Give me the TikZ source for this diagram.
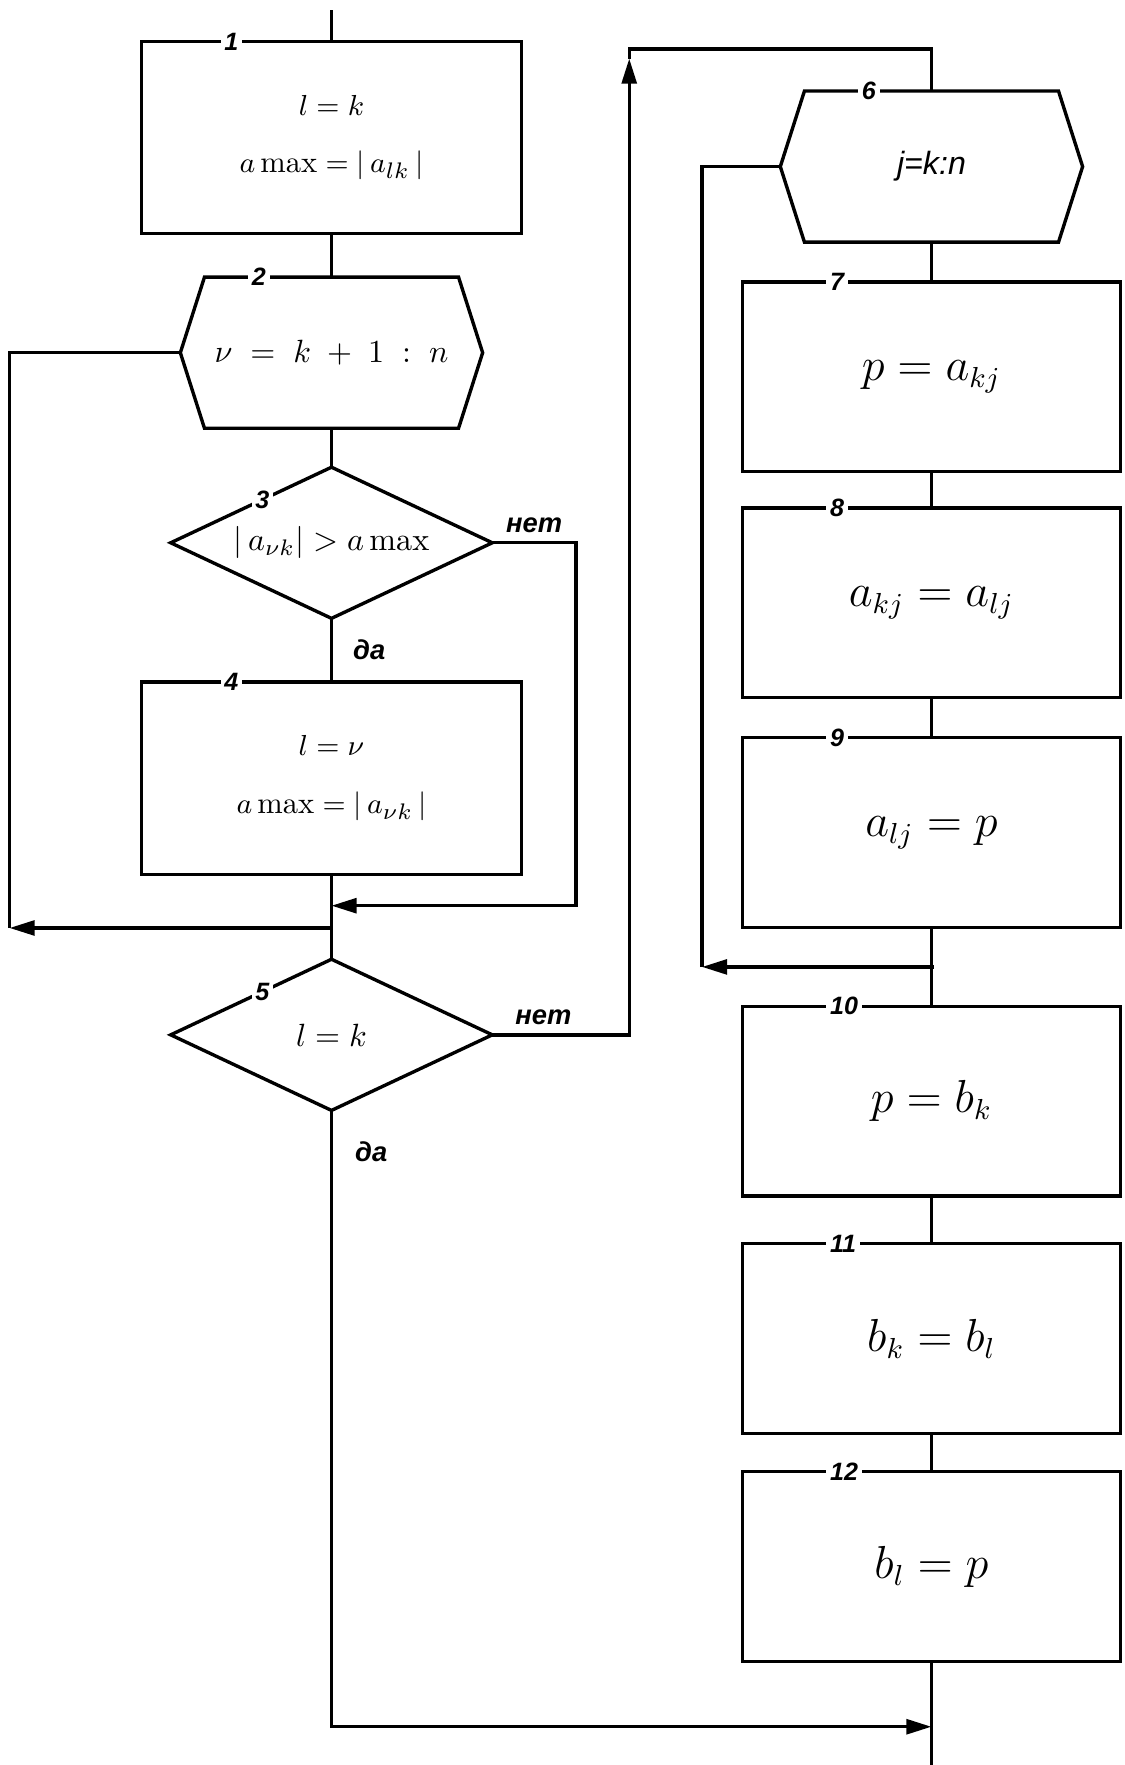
\documentclass[tikz,border=0pt]{standalone}
\usepackage{fontspec}
\setsansfont{Liberation Sans}
\usetikzlibrary{arrows.meta,positioning,shapes.geometric,calc}
\newcommand\hexline[1]{\draw ([xshift=7.5pt]#1.north west) -- ([xshift=-7.5pt]#1.north east) -- (#1.east) -- ([xshift=-7.5pt]#1.south east) -- ([xshift=7.5pt]#1.south west) -- (#1.west) -- cycle;}

\begin{document}
\begin{tikzpicture}[x=0.35pt,y=-0.35pt,line width=1.05pt,every node/.style={align=center},
 box/.style={draw,minimum width=117.5pt,minimum height=59pt,inner sep=0pt,outer sep=0pt,font=\fontsize{13.5}{16}\selectfont},
 lbox/.style={box,minimum width=118pt,minimum height=59.8pt,font=\fontsize{9.5}{12}\selectfont},
 hexbox/.style={minimum width=94pt,minimum height=47pt,inner sep=0pt,outer sep=0pt},
 cond/.style={draw,diamond,aspect=2.13,minimum width=100pt,minimum height=47pt,inner sep=0pt,outer sep=0pt,font=\fontsize{10}{12}\selectfont},
 num/.style={fill=white,inner sep=1.2pt,font=\sffamily\bfseries\itshape\fontsize{7.8}{9}\selectfont},
 ans/.style={inner sep=0pt,font=\sffamily\bfseries\itshape\fontsize{8.5}{10}\selectfont},
 arr/.style={-{Triangle[length=7.8pt,width=4.6pt]}}]
\useasboundingbox (0,0) rectangle (999,1568);
\node[lbox] (b1) at (294.5,122.2) {$l=k$\\[6pt]$a\max=|\,a_{lk}\,|$};
\node[hexbox,below=13.5pt of b1] (h2) {\fontsize{10}{12}\selectfont$\nu\;=\;k\;+\;1\;:\;n$};
\node[cond,below=12.1pt of h2] (d3) {$|\,a_{\nu k}|>a\max$};
\node[lbox,below=19.8pt of d3] (b4) {$l=\nu$\\[6pt]$a\max=|\,a_{\nu k}\,|$};
\node[cond,below=26.4pt of b4] (d5) {$l=k$};
\node[hexbox] (h6) at (827.5,148) {\sffamily\itshape\fontsize{10}{12}\selectfont j=k:n};
\node[box,below=12.4pt of h6] (b7) {$p=a_{kj}$};
\node[box,below=11.2pt of b7] (b8) {$a_{kj}=a_{lj}$};
\node[box,below=12.5pt of b8] (b9) {$a_{lj}=p$};
\node[box,below=24.5pt of b9] (b10) {$p=b_k$};
\node[box,below=14.8pt of b10] (b11) {$b_k=b_l$};
\node[box,below=11.9pt of b11] (b12) {$b_l=p$};
\hexline{h2}\hexline{h6}
\coordinate (in) at (294.5,9);
\coordinate (j3) at (294.5,804.6);
\coordinate (j5) at (294.5,824.4);
\coordinate (lp2) at (8.5,824.4);
\coordinate (up) at (559,52);
\coordinate (top6) at (827.5,43.6);
\coordinate (j9) at (829.5,859);
\coordinate (lp6) at (623.7,859);
\coordinate (j12) at (827.5,1534);
\coordinate (out) at (827.5,1568);
\draw (in)--(b1);\draw (b1)--(h2);\draw (h2)--(d3);\draw (d3)--(b4);\draw (b4)--(d5);
\draw (h2.west) -| (lp2);\draw[arr] (j5)--(lp2);
\draw[arr] (d3.east) -- ++(74.4,0) |- (j3);
\draw[arr] (d5.east) -| (up);\draw (up) |- (top6) -- (h6.north);
\draw[arr] (d5.south) |- (j12);
\draw (h6)--(b7);\draw (b7)--(b8);\draw (b8)--(b9);\draw (b9)--(b10);\draw (b10)--(b11);\draw (b11)--(b12);\draw (b12)--(out);
\draw (h6.west) -| (lp6);\draw[arr] (j9)--(lp6);
\foreach \b/\t in {b1/1,b4/4}
  \node[num,anchor=west] (n\t) at ([xshift=24pt]\b.north west) {\t};
\foreach \b/\t in {b7/7,b8/8,b9/9,b10/10,b11/11,b12/12}
  \node[num,anchor=west] (n\t) at ([xshift=25.5pt]\b.north west) {\t};
\node[num,anchor=west] (n2) at ([xshift=20.5pt]h2.north west) {2};
\node[num,anchor=west] (n6) at ([xshift=23.6pt]h6.north west) {6};
\node[num] (n3) at ($(d3.north)!0.43!(d3.west)$) {3};
\node[num] (n5) at ($(d5.north)!0.43!(d5.west)$) {5};
\node[ans] (no3) at (474.5,466.6) {нет};
\node[ans] (yes3) at (328,577.4) {да};
\node[ans] (no5) at (482.7,904) {нет};
\node[ans] (yes5) at (329.8,1023.4) {да};
\end{tikzpicture}
\end{document}
